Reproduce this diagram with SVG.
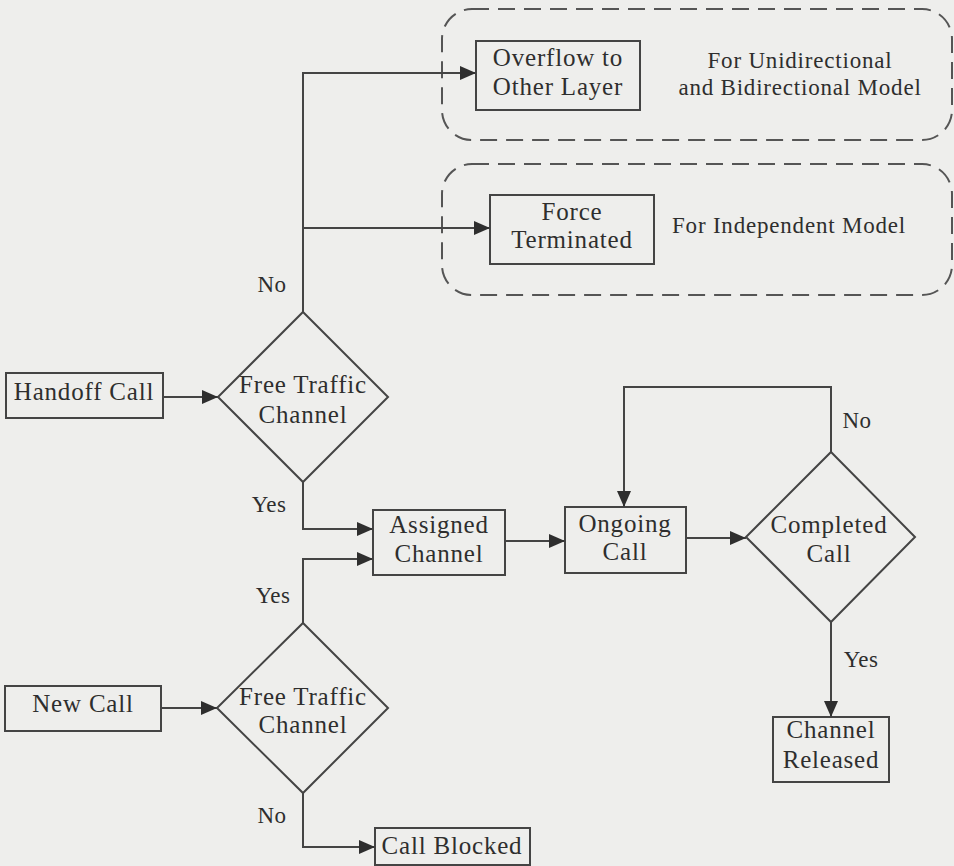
<svg xmlns="http://www.w3.org/2000/svg" width="954" height="866" viewBox="0 0 954 866">
<defs>
<style>
.bg{fill:#eeeeec}
.box{fill:none;stroke:#444;stroke-width:2}
.dash{fill:none;stroke:#555;stroke-width:2;stroke-dasharray:17 9}
.t{font-family:"Liberation Serif","Times New Roman",serif;font-size:25px;fill:#2e2e2e;text-anchor:middle;letter-spacing:0.8px}
.a{font-family:"Liberation Serif","Times New Roman",serif;font-size:23px;fill:#2e2e2e;text-anchor:middle;letter-spacing:0.8px}
.l{font-family:"Liberation Serif","Times New Roman",serif;font-size:23px;fill:#2e2e2e;text-anchor:middle;letter-spacing:0.4px}
.c{fill:none;stroke:#444;stroke-width:2}
</style>
<marker id="ah" viewBox="0 0 16 14" refX="16" refY="7" markerWidth="16" markerHeight="14" markerUnits="userSpaceOnUse" orient="auto">
<path d="M0,0 L16,7 L0,14 Z" fill="#2e2e2e"/>
</marker>
</defs>
<rect class="bg" x="0" y="0" width="954" height="866"/>

<g id="group-unidirectional">
<rect class="dash" x="442" y="9" width="510" height="131" rx="30" ry="30"/>
<text class="a" x="800" y="68">For Unidirectional</text>
<text class="a" x="800" y="95">and Bidirectional Model</text>
</g>
<g id="group-independent">
<rect class="dash" x="442" y="164" width="510" height="131" rx="30" ry="30"/>
<text class="a" x="789" y="233">For Independent Model</text>
</g>

<g id="overflow">
<rect class="box" x="476" y="41" width="164" height="69"/>
<text class="t" x="558" y="66">Overflow to</text>
<text class="t" x="558" y="95">Other Layer</text>
</g>
<g id="force">
<rect class="box" x="490" y="195" width="164" height="69"/>
<text class="t" x="572" y="220">Force</text>
<text class="t" x="572" y="248">Terminated</text>
</g>
<g id="handoff">
<rect class="box" x="6" y="373" width="157" height="45"/>
<text class="t" x="84" y="400">Handoff Call</text>
</g>
<g id="free1">
<polygon class="box" points="303,312 388,397 303,482 218,397"/>
<text class="t" x="303" y="393">Free Traffic</text>
<text class="t" x="303" y="423">Channel</text>
</g>
<g id="assigned">
<rect class="box" x="373" y="510" width="132" height="65"/>
<text class="t" x="439" y="533">Assigned</text>
<text class="t" x="439" y="562">Channel</text>
</g>
<g id="ongoing">
<rect class="box" x="565" y="507" width="121" height="66"/>
<text class="t" x="625" y="532">Ongoing</text>
<text class="t" x="625" y="560">Call</text>
</g>
<g id="completed">
<polygon class="box" points="831,452 915,537 831,622 746,537"/>
<text class="t" x="829" y="533">Completed</text>
<text class="t" x="829" y="562">Call</text>
</g>
<g id="released">
<rect class="box" x="773" y="717" width="116" height="65"/>
<text class="t" x="831" y="738">Channel</text>
<text class="t" x="831" y="768">Released</text>
</g>
<g id="newcall">
<rect class="box" x="5" y="686" width="156" height="45"/>
<text class="t" x="83" y="712">New Call</text>
</g>
<g id="free2">
<polygon class="box" points="303,623 388,708 303,793 217,708"/>
<text class="t" x="303" y="705">Free Traffic</text>
<text class="t" x="303" y="733">Channel</text>
</g>
<g id="blocked">
<rect class="box" x="375" y="828" width="155" height="37"/>
<text class="t" x="452" y="854">Call Blocked</text>
</g>

<g id="connectors">
<path class="c" d="M163,397 H218" marker-end="url(#ah)"/>
<path class="c" d="M303,312 V73 H476" marker-end="url(#ah)"/>
<path class="c" d="M303,228 H490" marker-end="url(#ah)"/>
<path class="c" d="M303,482 V529 H373" marker-end="url(#ah)"/>
<path class="c" d="M303,623 V559 H373" marker-end="url(#ah)"/>
<path class="c" d="M161,708 H217" marker-end="url(#ah)"/>
<path class="c" d="M303,793 V847 H375" marker-end="url(#ah)"/>
<path class="c" d="M505,541 H565" marker-end="url(#ah)"/>
<path class="c" d="M686,538 H746" marker-end="url(#ah)"/>
<path class="c" d="M831,452 V387 H624 V507" marker-end="url(#ah)"/>
<path class="c" d="M831,622 V717" marker-end="url(#ah)"/>
<text class="l" x="272" y="292">No</text>
<text class="l" x="269" y="512">Yes</text>
<text class="l" x="273" y="603">Yes</text>
<text class="l" x="272" y="823">No</text>
<text class="l" x="857" y="428">No</text>
<text class="l" x="861" y="667">Yes</text>
</g>
</svg>
